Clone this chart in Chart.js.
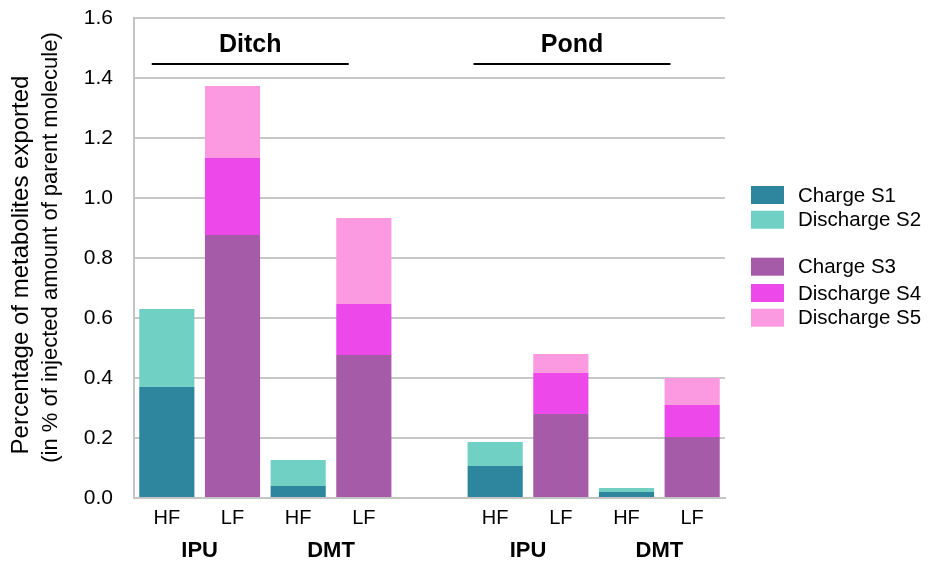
<!DOCTYPE html>
<html>
<head>
<meta charset="utf-8">
<script src="https://cdn.jsdelivr.net/npm/chart.js@4"></script>
<style>
  html, body { margin: 0; padding: 0; background: #fff; }
  #wrap { width: 930px; height: 565px; position: relative; }
</style>
</head>
<body>
<div id="wrap"><canvas id="grafico"></canvas></div>
<script>
// categorias (slot vazio no meio separa Ditch / Pond)
const categorias = ["HF", "LF", "HF", "LF", "", "HF", "LF", "HF", "LF"];
const substancias = ["IPU", "DMT", "IPU", "DMT"];
const locais = ["Ditch", "Pond"];
const ticksY = [0, 0.2, 0.4, 0.6, 0.8, 1.0, 1.2, 1.4, 1.6];

// valores
const chargeS1    = [0.37, null, 0.04,  null, null, 0.107, null,  0.02,  null];
const dischargeS2 = [0.26, null, 0.087, null, null, 0.08,  null,  0.013, null];
const chargeS3    = [null, 0.877, null, 0.477, null, null, 0.28,  null, 0.203];
const dischargeS4 = [null, 0.256, null, 0.17,  null, null, 0.137, null, 0.107];
const dischargeS5 = [null, 0.24,  null, 0.286, null, null, 0.063, null, 0.09];

const FONTE = '"Liberation Sans", Arial, sans-serif';

const series = [
    { label: "Charge S1",    data: chargeS1,    cor: "#2e869e" },
    { label: "Discharge S2", data: dischargeS2, cor: "#71d0c4" },
    { label: "Charge S3",    data: chargeS3,    cor: "#a65ba8" },
    { label: "Discharge S4", data: dischargeS4, cor: "#ec48ea" },
    { label: "Discharge S5", data: dischargeS5, cor: "#fb9ae0" }
];

// desenha títulos, grupos e legenda
const anotacoes = {
    id: "anotacoes",
    afterDraw(chart) {
        const ctx = chart.ctx;
        const x = chart.scales.x;
        const area = chart.chartArea;
        ctx.save();
        ctx.fillStyle = "#000";

        // título do eixo Y (duas linhas)
        ctx.textAlign = "center";
        ctx.textBaseline = "alphabetic";
        const meio = (area.top + area.bottom) / 2;
        [["Percentage of metabolites exported", 24, 28, meio + 7],
         ["(in % of injected amount of parent molecule)", 22, 57, meio - 10.5]].forEach(([txt, tam, bx, cy]) => {
            ctx.save();
            ctx.font = tam + "px " + FONTE;
            ctx.translate(bx, cy);
            ctx.rotate(-Math.PI / 2);
            ctx.fillText(txt, 0, 0);
            ctx.restore();
        });

        // IPU / DMT
        ctx.font = "bold 22px " + FONTE;
        ctx.textBaseline = "middle";
        [[0, 1], [2, 3], [5, 6], [7, 8]].forEach((par, i) => {
            const cx = (x.getPixelForValue(par[0]) + x.getPixelForValue(par[1])) / 2;
            ctx.fillText(substancias[i], cx, 551);
        });

        // Ditch / Pond com linha
        ctx.font = "bold 25px " + FONTE;
        [1.27, 6.17].forEach((idx, i) => {
            const cx = x.getPixelForValue(idx);
            const meia = x.getPixelForValue(1.5) - x.getPixelForValue(0);
            ctx.fillText(locais[i], cx, 45);
            ctx.fillRect(cx - meia, 63, meia * 2, 2);
        });

        // legenda com espaço entre os grupos
        const linhas = [195, 219.7, 266.7, 293, 317.7];
        ctx.font = "20.5px " + FONTE;
        ctx.textAlign = "left";
        chart.data.datasets.forEach((ds, i) => {
            ctx.fillStyle = ds.backgroundColor;
            ctx.fillRect(751, linhas[i] - 9, 33, 18);
            ctx.fillStyle = "#000";
            ctx.fillText(ds.label, 798, linhas[i] + 1);
        });
        ctx.restore();
    }
};

const ctxGrafico = document.getElementById("grafico").getContext("2d");
new Chart(ctxGrafico, {
    type: "bar",
    data: {
        labels: categorias,
        datasets: series.map(s => ({
            label: s.label,
            data: s.data,
            backgroundColor: s.cor,
            borderWidth: 0,
            stack: "total",
            barPercentage: 0.84,
            categoryPercentage: 1
        }))
    },
    options: {
        responsive: true,
        maintainAspectRatio: false,
        animation: false,
        layout: { padding: { top: 18, right: 205, left: 0, bottom: 0 } },
        plugins: {
            legend: { display: false },
            tooltip: { enabled: false }
        },
        scales: {
            x: {
                stacked: true,
                grid: { display: false, drawTicks: false },
                border: { display: true, color: "#c4c4c4", width: 2 },
                ticks: {
                    autoSkip: false,
                    maxRotation: 0,
                    padding: 8,
                    color: "#000",
                    font: { family: FONTE, size: 20 }
                },
                afterFit: scale => { scale.height = 67; }
            },
            y: {
                stacked: true,
                min: 0,
                max: 1.6,
                afterBuildTicks: scale => { scale.ticks = ticksY.map(v => ({ value: v })); },
                grid: { color: "#c8c8c8", lineWidth: 2, drawTicks: false },
                border: { display: true, color: "#c4c4c4", width: 2 },
                ticks: {
                    padding: 21,
                    color: "#000",
                    font: { family: FONTE, size: 21 },
                    callback: v => v.toFixed(1)
                },
                afterFit: scale => {
                    scale.width = 134;
                    scale.paddingTop = 0;
                    scale.paddingBottom = 0;
                }
            }
        }
    },
    plugins: [anotacoes]
});
</script>
</body>
</html>
